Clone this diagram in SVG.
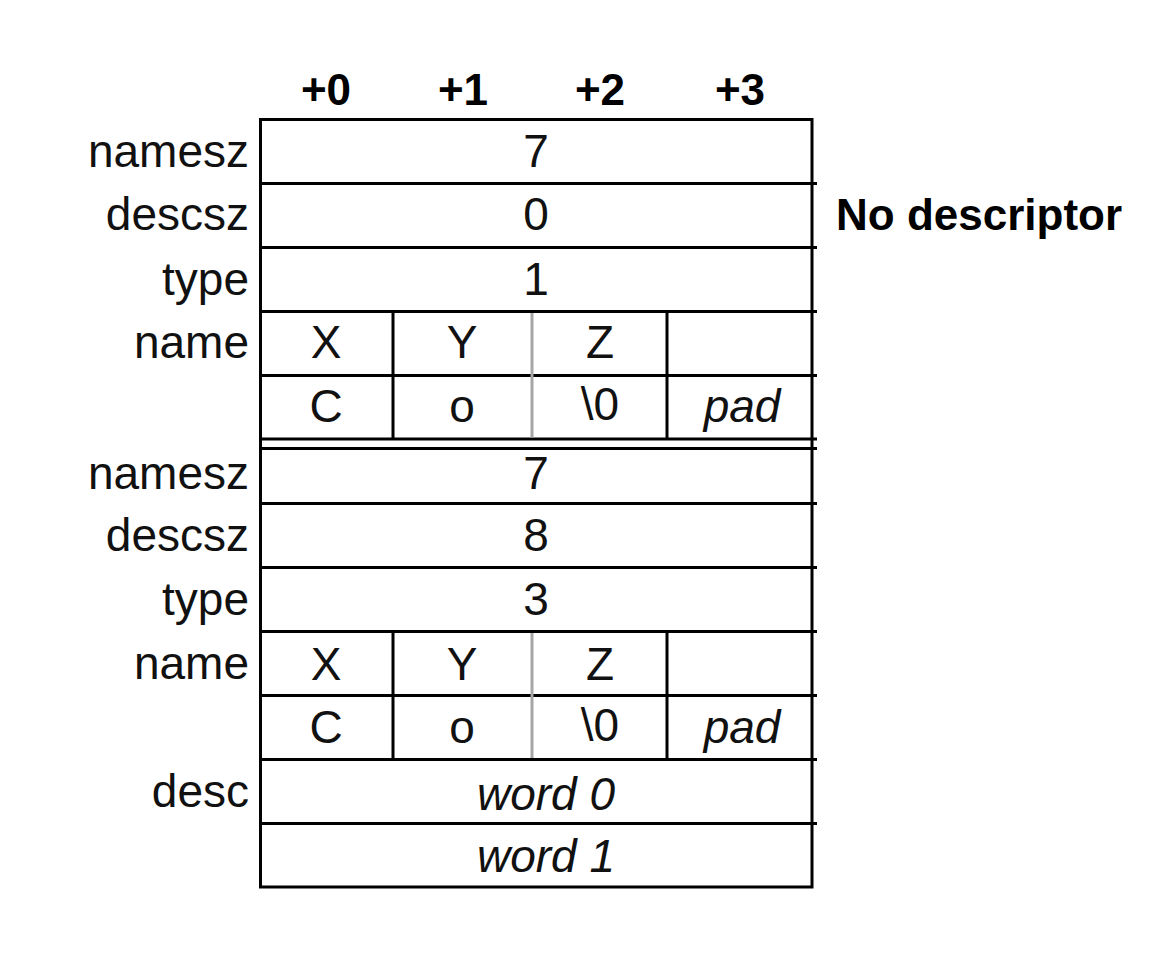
<svg xmlns="http://www.w3.org/2000/svg" width="1158" height="958" viewBox="0 0 1158 958">
<style>
.t{font-family:"Liberation Sans",Arial,sans-serif;font-size:46px;fill:#111;text-anchor:middle}
.lbl{font-family:"Liberation Sans",Arial,sans-serif;font-size:46px;fill:#111;text-anchor:end}
.hd{font-family:"Liberation Sans",Arial,sans-serif;font-size:44px;font-weight:bold;fill:#000;text-anchor:middle}
.it{font-style:italic}
.ln{stroke:#000;stroke-width:3;fill:none}
.gr{stroke:#a6a6a6;stroke-width:3;fill:none}
</style>
<rect width="1158" height="958" fill="#fff"/>
<g id="header">
<text class="hd" x="326" y="105">+0</text>
<text class="hd" x="463" y="105">+1</text>
<text class="hd" x="600" y="105">+2</text>
<text class="hd" x="740" y="105">+3</text>
</g>
<g id="grid">
<path class="ln" d="M260.5 119.5H812M260.5 887H812M260.5 118V888.5M812 118V888.5"/>
<path class="ln" d="M260.5 183.5H817M260.5 247.5H817M260.5 311.5H817M260.5 375.5H817M260.5 439H817M260.5 448.5H817M260.5 503.5H817M260.5 567.5H817M260.5 631.5H817M260.5 695.5H817M260.5 759.5H817M260.5 823.5H817"/>
<path class="ln" d="M393 311.5V439M667 311.5V439M393 631.5V759.5M667 631.5V759.5"/>
<path class="gr" d="M532 313V437.5M532 633V758"/>
</g>
<g id="entry1">
<g id="e1-namesz"><text class="lbl" x="249" y="167">namesz</text><text class="t" x="536" y="167">7</text></g>
<g id="e1-descsz"><text class="lbl" x="249" y="230">descsz</text><text class="t" x="536" y="230">0</text></g>
<g id="e1-type"><text class="lbl" x="249" y="295">type</text><text class="t" x="536" y="295">1</text></g>
<g id="e1-name">
<text class="lbl" x="249" y="358">name</text>
<text class="t" x="326" y="358">X</text><text class="t" x="462" y="358">Y</text><text class="t" x="600" y="358">Z</text>
<text class="t" x="326" y="422">C</text><text class="t" x="462" y="422">o</text><text class="t" x="600" y="420">\0</text><text class="t it" x="742" y="422">pad</text>
</g>
</g>
<g id="note"><text class="hd" x="836" y="229.5" style="text-anchor:start">No descriptor</text></g>
<g id="entry2">
<g id="e2-namesz"><text class="lbl" x="249" y="489">namesz</text><text class="t" x="536" y="489">7</text></g>
<g id="e2-descsz"><text class="lbl" x="249" y="551">descsz</text><text class="t" x="536" y="551">8</text></g>
<g id="e2-type"><text class="lbl" x="249" y="615">type</text><text class="t" x="536" y="615">3</text></g>
<g id="e2-name">
<text class="lbl" x="249" y="679">name</text>
<text class="t" x="326" y="680">X</text><text class="t" x="462" y="680">Y</text><text class="t" x="600" y="680">Z</text>
<text class="t" x="326" y="743">C</text><text class="t" x="462" y="743">o</text><text class="t" x="600" y="741">\0</text><text class="t it" x="742" y="743">pad</text>
</g>
<g id="e2-desc">
<text class="lbl" x="249" y="807">desc</text>
<text class="t it" x="546" y="810">word 0</text>
<text class="t it" x="546" y="872">word 1</text>
</g>
</g>
</svg>
